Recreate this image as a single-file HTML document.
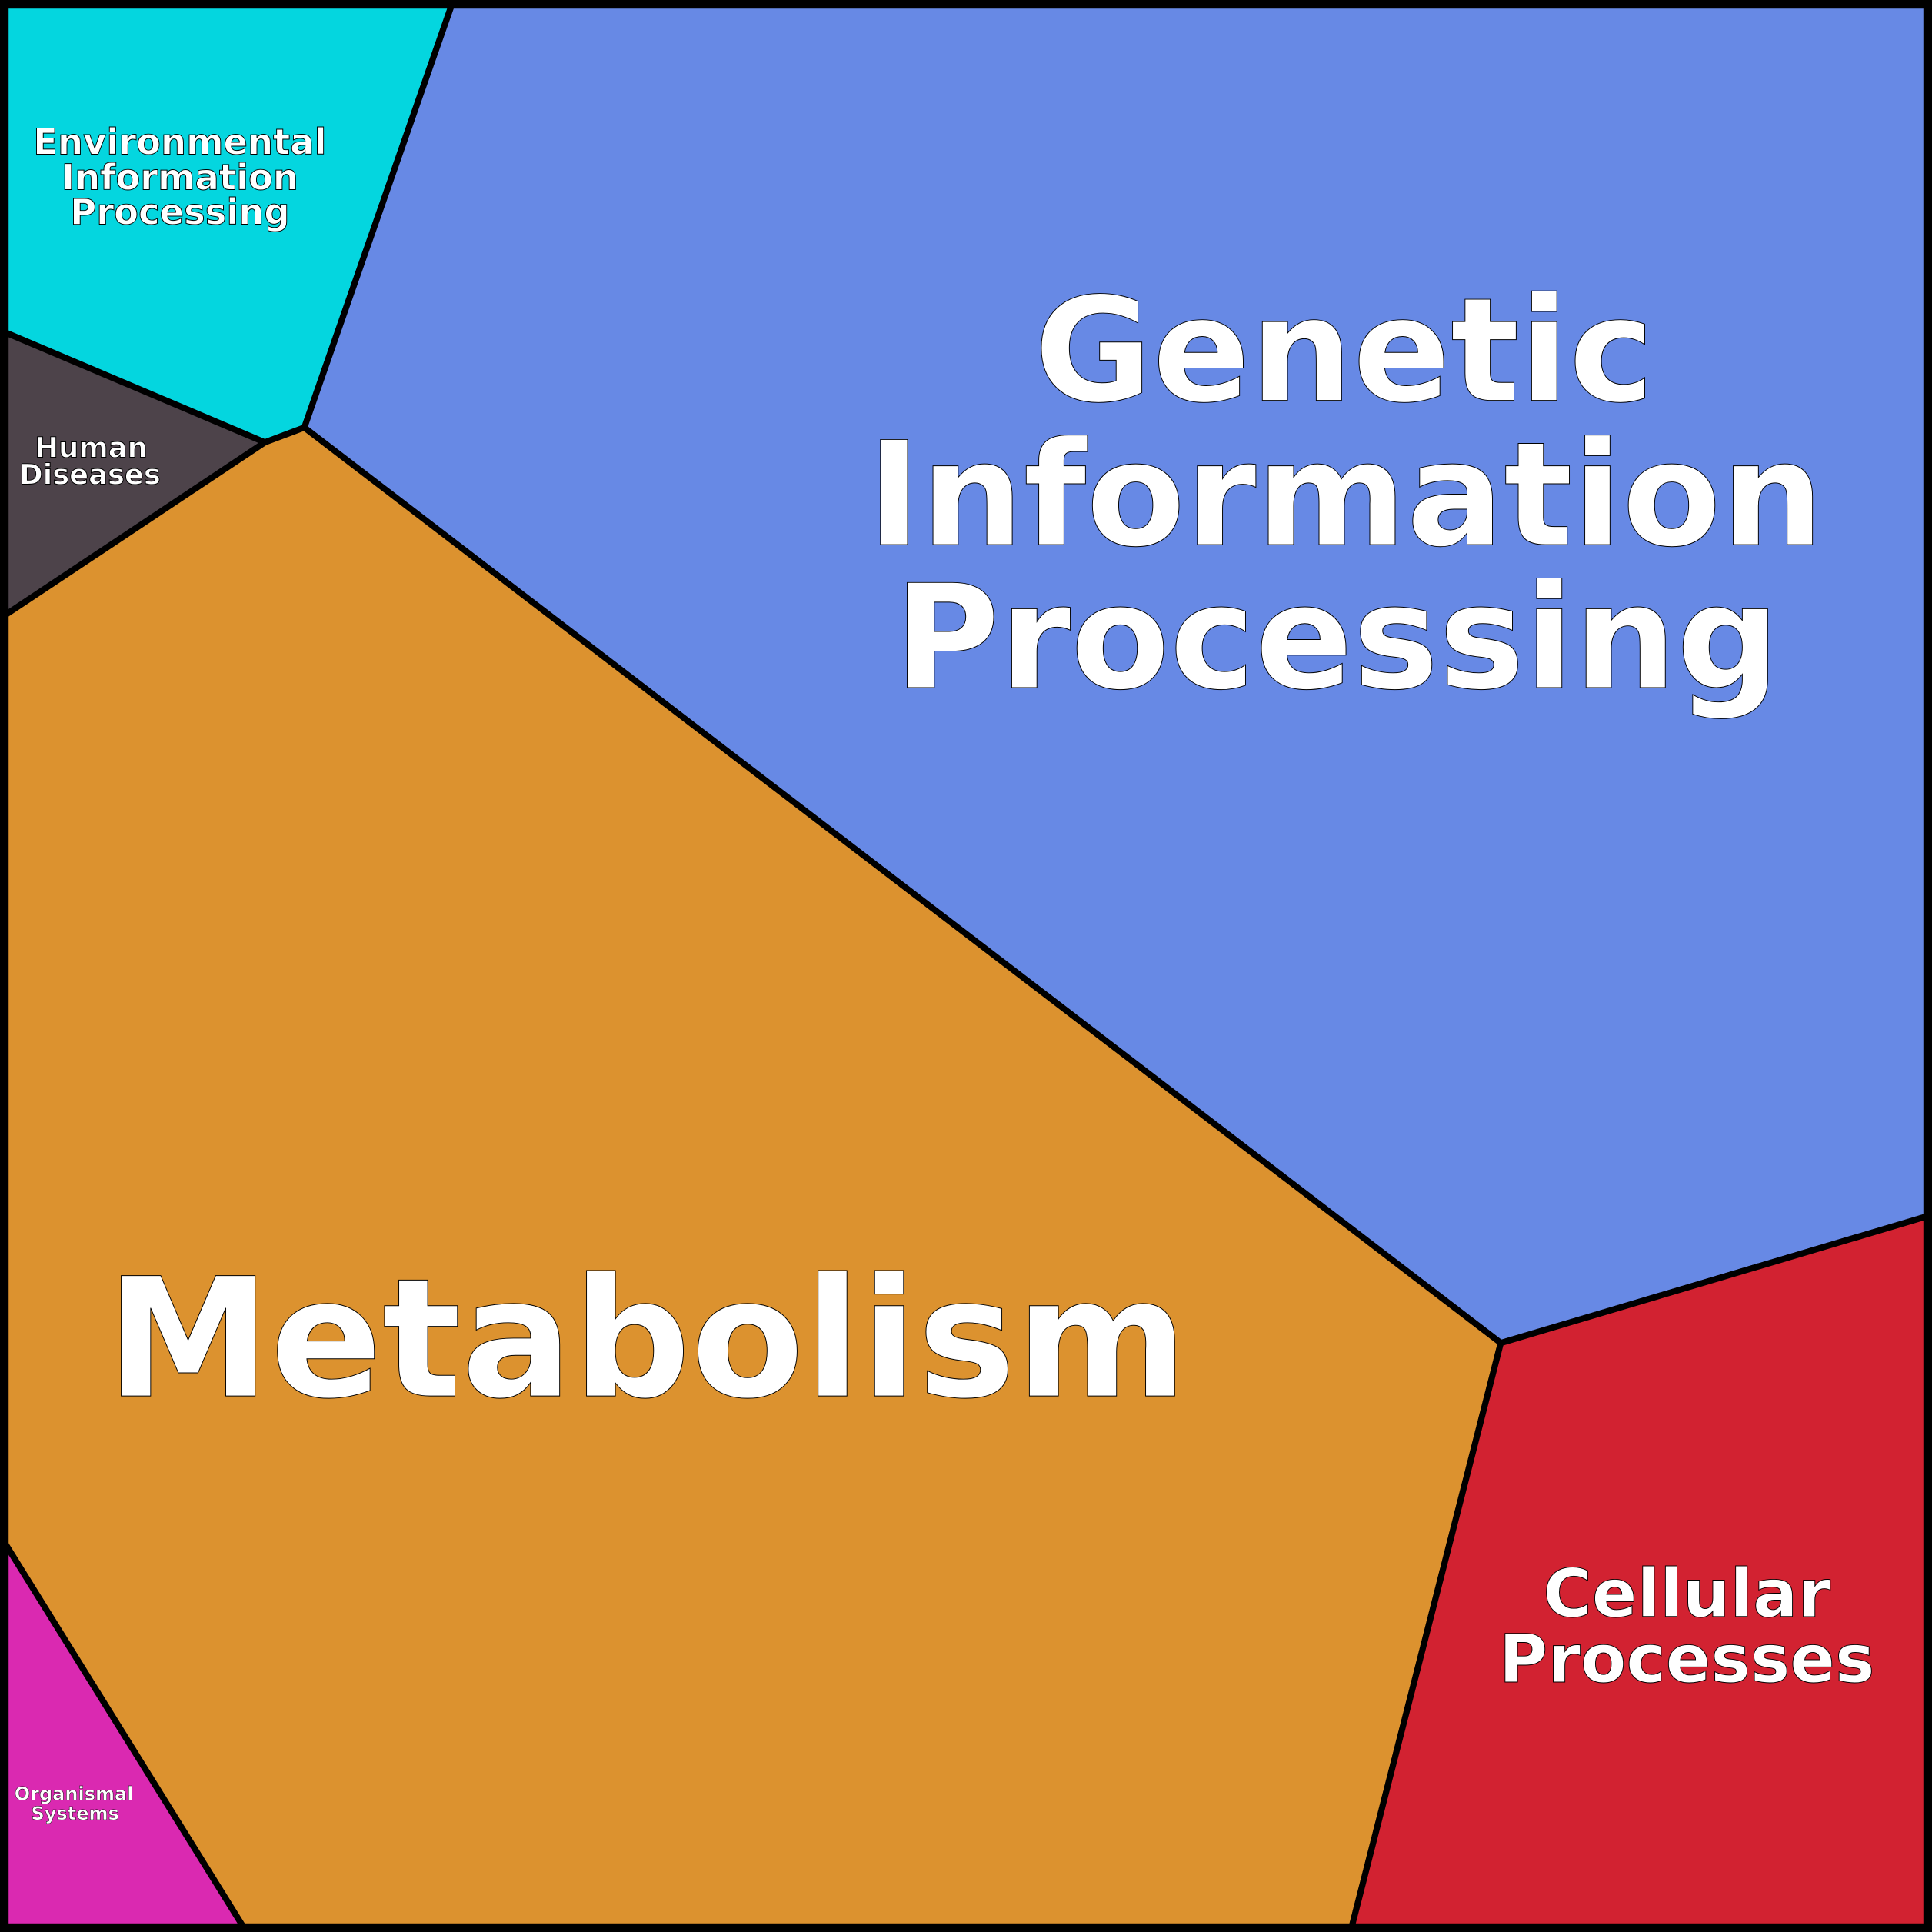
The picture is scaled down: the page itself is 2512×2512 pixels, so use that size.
<!DOCTYPE html>
<html><head><style>html,body{margin:0;padding:0;background:#fff}svg{display:block}</style></head>
<body>
<svg width="2512" height="2512" viewBox="0 0 1568 1568" xmlns="http://www.w3.org/2000/svg">
<g stroke="#000" stroke-width="5" stroke-linejoin="round">
<polygon points="0,0 368,0 247,347 215,359 0,268" fill="#04d6df"/>
<polygon points="368,0 1568,0 1568,986 1218,1090 247,347" fill="#6789e5"/>
<polygon points="0,268 215,359 0,502" fill="#4d434a"/>
<polygon points="215,359 247,347 1218,1090 1096,1568 200,1568 0,1246 0,502" fill="#dc922f"/>
<polygon points="1218,1090 1568,986 1568,1568 1096,1568" fill="#d22231"/>
<polygon points="0,1246 200,1568 0,1568" fill="#da29b1"/>
</g>
<rect x="3.5" y="3.5" width="1561" height="1561" fill="none" stroke="#000" stroke-width="7"/>
<g font-family="DejaVu Sans, sans-serif" font-weight="bold" fill="#fff" stroke="#000" stroke-width="0.6" text-anchor="middle">
<text x="1091" y="325" font-size="117">Genetic</text>
<text x="1092" y="442" font-size="117">Information</text>
<text x="1085" y="558" font-size="117">Processing</text>
<text x="525" y="1133" font-size="134">Metabolism</text>
<text x="1369" y="1312" font-size="54">Cellular</text>
<text x="1369" y="1365" font-size="54">Processes</text>
<text x="146" y="125" font-size="29">Environmental</text>
<text x="146" y="154" font-size="29">Information</text>
<text x="146" y="182" font-size="29">Processing</text>
<text x="74" y="371" font-size="23">Human</text>
<text x="73" y="393" font-size="23">Diseases</text>
<text x="60" y="1461" font-size="15" stroke-width="0.3">Organismal</text>
<text x="61" y="1477" font-size="15" stroke-width="0.3">Systems</text>
</g>
</svg>
</body></html>
